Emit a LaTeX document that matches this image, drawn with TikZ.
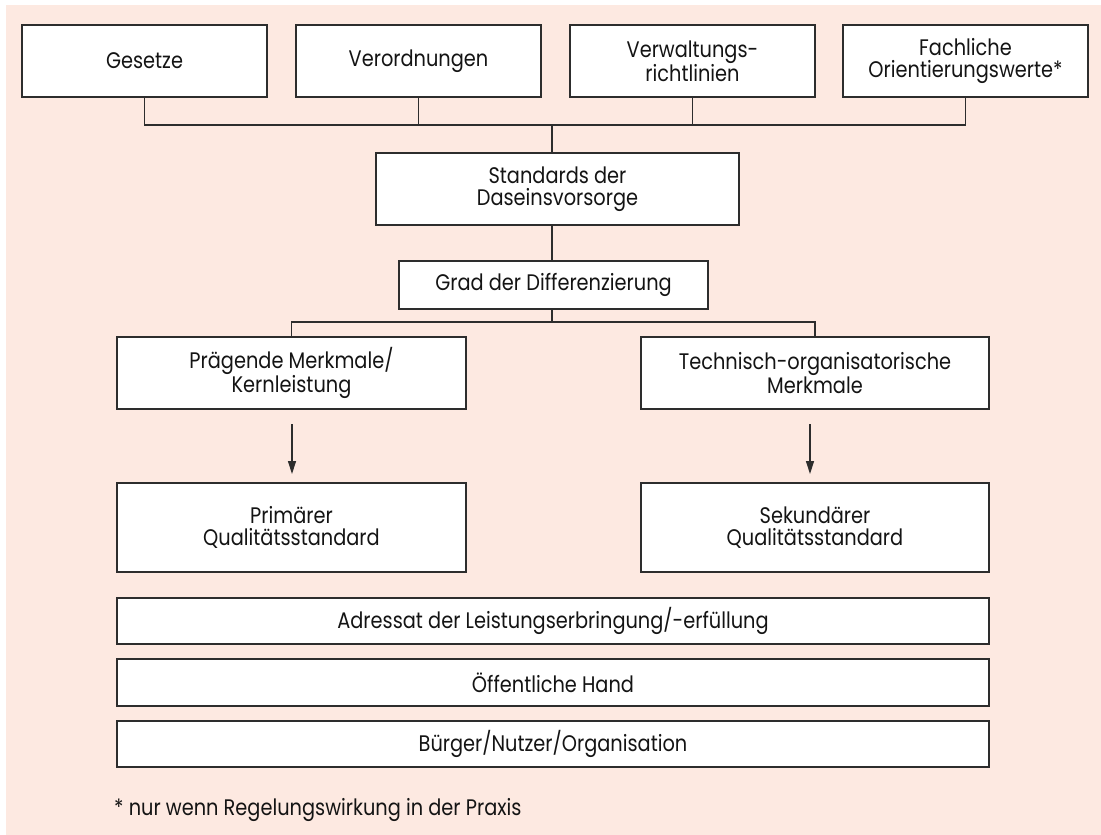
\documentclass[tikz,border=0pt]{standalone}
\usepackage{fontspec}
\setmainfont[FakeStretch=0.86]{Poppins}
\usetikzlibrary{arrows.meta,calc}
\definecolor{bg}{RGB}{253,233,225}
\definecolor{ln}{RGB}{45,45,45}
\definecolor{tx}{RGB}{20,20,20}
\begin{document}
\begin{tikzpicture}[x=1pt,y=-1pt,
  box/.style={draw=ln,fill=white,line width=1.3pt,align=center,inner sep=0pt,text=tx,font=\fontsize{22.5}{22}\selectfont},
  conn/.style={draw=ln,line width=1.3pt},
  arr/.style={conn,-{Triangle[length=13pt,width=8pt]}}]
\useasboundingbox (0,0) rectangle (1101,835);
\fill[bg] (6,5) rectangle (1101,835);
% top row
\node[box,minimum width=245pt,minimum height=72pt] (ges) at (144.5,61) {Gesetze};
\node[box,minimum width=245pt,minimum height=72pt] (ver) at (418.5,61) {Verordnungen};
\node[box,minimum width=245pt,minimum height=72pt] (vwr) at (692.5,61) {Verwaltungs-\\richtlinien};
\node[box,minimum width=245pt,minimum height=72pt] (fach) at (965.5,61) {Fachliche\\Orientierungswerte*};
% middle
\node[box,minimum width=363pt,minimum height=72pt] (std) at (557.5,189) {Standards der\\Daseinsvorsorge};
\node[box,minimum width=309pt,minimum height=48pt] (grad) at (553.5,285) {Grad der Differenzierung};
\node[box,minimum width=349pt,minimum height=72pt] (pk) at (291.5,373) {Prägende Merkmale/\\Kernleistung};
\node[box,minimum width=348pt,minimum height=72pt] (tm) at (815,373) {Technisch-organisatorische\\Merkmale};
\node[box,minimum width=349pt,minimum height=89pt] (pq) at (291.5,527.5) {Primärer\\Qualitätsstandard};
\node[box,minimum width=348pt,minimum height=89pt] (sq) at (815,527.5) {Sekundärer\\Qualitätsstandard};
% bottom bars
\node[box,minimum width=872pt,minimum height=46pt] (adr) at (553,621) {Adressat der Leistungserbringung/-erfüllung};
\node[box,minimum width=872pt,minimum height=47pt] (oef) at (553,682.5) {Öffentliche Hand};
\node[box,minimum width=872pt,minimum height=46pt] (bur) at (553,744) {Bürger/Nutzer/Organisation};
% footnote
\node[anchor=base west,inner sep=0pt,text=tx,font=\fontsize{22.5}{22}\selectfont] (fn) at (114,815) {* nur wenn Regelungswirkung in der Praxis};
% connectors
\coordinate (bus1) at (552,125);
\coordinate (bus2) at (552,322);
\draw[conn] (ges.south) -- (ges.south |- bus1) -- (fach.south |- bus1) -- (fach.south);
\draw[conn] (ver.south) -- (ver.south |- bus1);
\draw[conn] (vwr.south) -- (vwr.south |- bus1);
\draw[conn] (bus1) -- (bus1 |- std.north);
\draw[conn] (bus1 |- std.south) -- (bus1 |- grad.north);
\draw[conn] (bus2 |- grad.south) -- (bus2);
\draw[conn] (pk.north) |- (bus2) -| (tm.north);
\coordinate (a1s) at (292,424);
\coordinate (a1e) at (292,474);
\coordinate (a2s) at (810,424);
\coordinate (a2e) at (810,474);
\draw[arr] (a1s) -- (a1e);
\draw[arr] (a2s) -- (a2e);
\end{tikzpicture}
\end{document}
